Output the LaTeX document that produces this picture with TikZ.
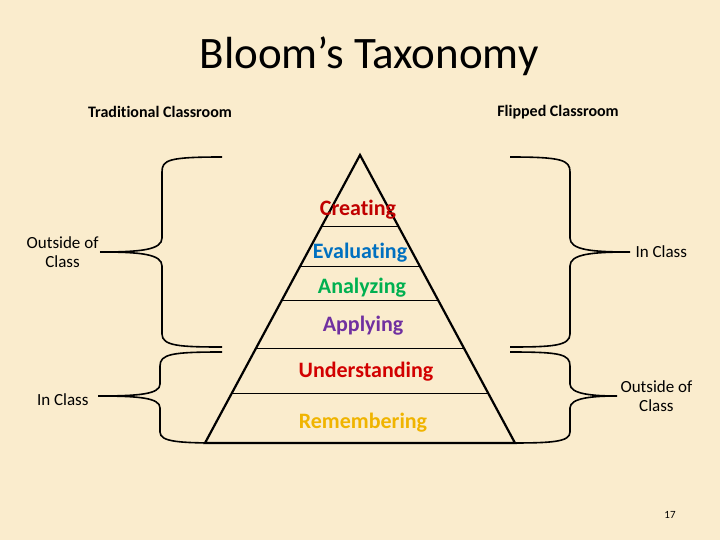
\documentclass[tikz,border=0pt]{standalone}
\usepackage{fontspec}
\setmainfont[Ligatures={NoCommon,NoDiscretionary,NoRare}]{Carlito}
\definecolor{bg}{RGB}{250,236,205}
\definecolor{cre}{RGB}{192,0,0}
\definecolor{eva}{RGB}{0,112,192}
\definecolor{ana}{RGB}{0,176,80}
\definecolor{app}{RGB}{112,48,160}
\definecolor{und}{RGB}{210,0,0}
\definecolor{rem}{RGB}{240,180,0}
\begin{document}
\begin{tikzpicture}[x=1pt,y=-1pt,
  lvl/.style={font=\fontsize{22}{24}\selectfont\bfseries},
  lab/.style={font=\fontsize{17}{19}\selectfont,align=center},
  head/.style={font=\fontsize{16}{18}\selectfont\bfseries},
  brace/.style={line width=1.6pt},
  layer/.style={line width=0.8pt}]
\fill[bg] (0,0) rectangle (720,540);
\useasboundingbox (0,0) rectangle (720,540);
\node[font=\fontsize{45}{50}\selectfont] (title) at (369,56) {Bloom’s Taxonomy};
\node[head] (trad) at (160,112) {Traditional Classroom};
\node[head] (flip) at (558,112) {Flipped Classroom};
% pyramid
\coordinate (apex) at (360,155);
\coordinate (bl) at (205,443);
\coordinate (br) at (515,443);
\draw[line width=2.2pt,line join=miter] (bl) -- (apex) -- (br) -- cycle;
\draw[layer] (322,226) -- (398,226);
\draw[layer] (300,266) -- (420,266);
\draw[layer] (282,300) -- (438,300);
\draw[layer] (256,348) -- (464,348);
\draw[layer] (232,393) -- (488,393);
\node[lvl,text=cre] (c) at (358,210) {Creating};
\node[lvl,text=eva] (e) at (360,253) {Evaluating};
\node[lvl,text=ana] (a) at (362,288) {Analyzing};
\node[lvl,text=app] (p) at (363,326) {Applying};
\node[lvl,text=und] (u) at (366,372) {Understanding};
\node[lvl,text=rem] (r) at (363,423) {Remembering};
% left braces
\coordinate (lt1) at (100,252);
\draw[brace] (222,157) .. controls (168,157) and (162,160) .. (162,172) -- (162,238)
  .. controls (162,250) and (140,252) .. (lt1)
  (lt1) .. controls (140,252) and (162,254) .. (162,266) -- (162,334)
  .. controls (162,346) and (180,347) .. (222,347);
\coordinate (lt2) at (98,396);
\draw[brace] (222,352) .. controls (172,352) and (160,354) .. (160,366) -- (160,384)
  .. controls (160,394) and (140,396) .. (lt2)
  (lt2) .. controls (140,396) and (160,398) .. (160,408) -- (160,432)
  .. controls (160,442) and (180,443) .. (222,443);
\node[lab,anchor=east] (o1) at ([xshift=2pt]lt1) {Outside of\\Class};
\node[lab,anchor=east] (i1) at ([xshift=-6pt,yshift=-4pt]lt2) {In Class};
% right braces
\coordinate (rt1) at (630,252);
\draw[brace] (510,157) .. controls (562,157) and (570,160) .. (570,172) -- (570,238)
  .. controls (570,250) and (592,252) .. (rt1)
  (rt1) .. controls (592,252) and (570,254) .. (570,266) -- (570,334)
  .. controls (570,346) and (552,347) .. (510,347);
\coordinate (rt2) at (617,396);
\draw[brace] (510,352) .. controls (560,352) and (570,354) .. (570,366) -- (570,384)
  .. controls (570,394) and (592,396) .. (rt2)
  (rt2) .. controls (592,396) and (570,398) .. (570,408) -- (570,432)
  .. controls (570,442) and (552,443) .. (510,443);
\node[lab,anchor=west] (i2) at ([xshift=2pt]rt1) {In Class};
\node[lab,anchor=west] (o2) at (rt2) {Outside of\\Class};
\node[font=\fontsize{11}{12}\selectfont] (pg) at (670,515) {17};
\end{tikzpicture}
\end{document}
